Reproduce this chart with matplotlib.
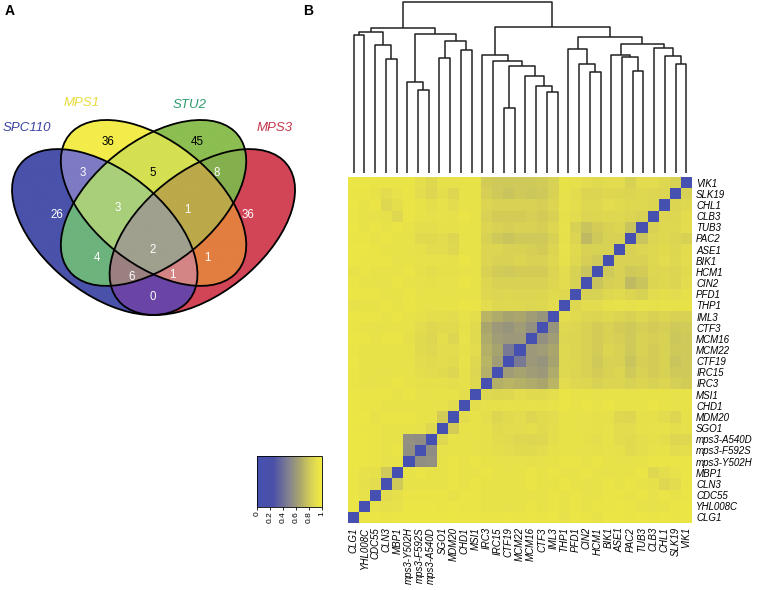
import numpy as np
import matplotlib
matplotlib.use("Agg")
import matplotlib.pyplot as plt
from matplotlib.patches import Ellipse
from matplotlib.colors import LinearSegmentedColormap, to_rgba

plt.rcParams['font.family'] = ['Liberation Sans', 'DejaVu Sans']

# ---------------- panel A: 4-set Venn ----------------
set_names = ["SPC110", "MPS1", "STU2", "MPS3"]
set_label_colors = ["#3B43A0", "#E8DC3A", "#2E9C6C", "#C3364C"]
region_keys = ["A", "B", "C", "D", "AB", "BC", "CD", "AC", "BD", "AD",
               "ABC", "BCD", "ACD", "ABD", "ABCD"]
region_counts = [26, 36, 45, 36, 3, 5, 8, 4, 1, 0, 3, 1, 6, 1, 2]

# ---------------- panel B: clustered distance heatmap ----------------
genes = ["CLG1", "YHL008C", "CDC55", "CLN3", "MBP1", "mps3-Y502H", "mps3-F592S",
         "mps3-A540D", "SGO1", "MDM20", "CHD1", "MSI1", "IRC3", "IRC15", "CTF19",
         "MCM22", "MCM16", "CTF3", "IML3", "THP1", "PFD1", "CIN2", "HCM1", "BIK1",
         "ASE1", "PAC2", "TUB3", "CLB3", "CHL1", "SLK19", "VIK1"]

# upper triangle, row i holds distances to genes i+1 .. 30
dist_upper = [
    [0.95, 0.96, 0.95, 0.96, 0.97, 0.97, 0.97, 0.96, 0.97, 0.96, 0.96, 0.95, 0.95, 0.96, 0.95,
     0.96, 0.95, 0.96, 0.93, 0.96, 0.95, 0.94, 0.96, 0.96, 0.95, 0.96, 0.95, 0.96, 0.95, 0.96],
    [0.93, 0.92, 0.93, 0.96, 0.96, 0.96, 0.95, 0.96, 0.95, 0.95, 0.93, 0.94, 0.93, 0.94,
     0.95, 0.94, 0.95, 0.94, 0.95, 0.94, 0.95, 0.95, 0.96, 0.95, 0.94, 0.93, 0.94, 0.95, 0.96],
    [0.90, 0.92, 0.95, 0.95, 0.95, 0.95, 0.94, 0.95, 0.95, 0.93, 0.93, 0.94, 0.93, 0.94,
     0.93, 0.95, 0.94, 0.95, 0.93, 0.94, 0.95, 0.95, 0.94, 0.95, 0.93, 0.95, 0.94, 0.95],
    [0.80, 0.93, 0.94, 0.94, 0.94, 0.95, 0.94, 0.95, 0.94, 0.93, 0.94, 0.94, 0.95, 0.94,
     0.94, 0.95, 0.94, 0.93, 0.94, 0.95, 0.94, 0.95, 0.94, 0.92, 0.88, 0.90, 0.95],
    [0.94, 0.95, 0.94, 0.94, 0.95, 0.94, 0.94, 0.95, 0.94, 0.93, 0.94, 0.95, 0.94, 0.95,
     0.94, 0.94, 0.95, 0.94, 0.93, 0.94, 0.94, 0.95, 0.88, 0.91, 0.93, 0.95],
    [0.55, 0.56, 0.94, 0.95, 0.94, 0.95, 0.94, 0.93, 0.93, 0.93, 0.92, 0.93, 0.94, 0.95,
     0.95, 0.94, 0.95, 0.94, 0.93, 0.93, 0.94, 0.95, 0.95, 0.95, 0.95],
    [0.54, 0.93, 0.94, 0.94, 0.93, 0.92, 0.91, 0.90, 0.89, 0.89, 0.90, 0.92, 0.94, 0.93,
     0.93, 0.92, 0.93, 0.92, 0.89, 0.91, 0.93, 0.94, 0.90, 0.91],
    [0.88, 0.93, 0.93, 0.93, 0.92, 0.90, 0.89, 0.88, 0.87, 0.88, 0.91, 0.93, 0.94, 0.92,
     0.91, 0.93, 0.90, 0.89, 0.91, 0.92, 0.91, 0.87, 0.88],
    [0.82, 0.93, 0.94, 0.92, 0.89, 0.90, 0.90, 0.91, 0.89, 0.91, 0.94, 0.93, 0.93, 0.92,
     0.93, 0.90, 0.90, 0.92, 0.93, 0.93, 0.91, 0.92],
    [0.90, 0.94, 0.91, 0.87, 0.89, 0.90, 0.87, 0.89, 0.90, 0.94, 0.93, 0.93, 0.92, 0.92,
     0.88, 0.87, 0.92, 0.92, 0.90, 0.87, 0.92],
    [0.91, 0.92, 0.92, 0.93, 0.92, 0.93, 0.92, 0.93, 0.95, 0.94, 0.95, 0.94, 0.95, 0.94,
     0.93, 0.94, 0.95, 0.94, 0.93, 0.94],
    [0.88, 0.87, 0.88, 0.90, 0.89, 0.89, 0.91, 0.95, 0.94, 0.94, 0.93, 0.94, 0.94, 0.93,
     0.94, 0.94, 0.94, 0.93, 0.94],
    [0.70, 0.72, 0.70, 0.68, 0.66, 0.72, 0.90, 0.88, 0.87, 0.85, 0.86, 0.86, 0.84, 0.86,
     0.85, 0.86, 0.83, 0.82],
    [0.62, 0.65, 0.62, 0.60, 0.68, 0.88, 0.86, 0.85, 0.82, 0.84, 0.86, 0.80, 0.84, 0.82,
     0.85, 0.80, 0.80],
    [0.45, 0.60, 0.58, 0.65, 0.88, 0.87, 0.84, 0.80, 0.85, 0.84, 0.78, 0.83, 0.82, 0.85,
     0.78, 0.80],
    [0.60, 0.62, 0.66, 0.88, 0.86, 0.85, 0.82, 0.86, 0.84, 0.80, 0.85, 0.82, 0.85, 0.80, 0.80],
    [0.56, 0.62, 0.87, 0.86, 0.84, 0.82, 0.85, 0.83, 0.80, 0.84, 0.83, 0.84, 0.79, 0.80],
    [0.58, 0.88, 0.87, 0.84, 0.82, 0.84, 0.82, 0.80, 0.83, 0.82, 0.83, 0.80, 0.81],
    [0.90, 0.89, 0.87, 0.86, 0.88, 0.86, 0.84, 0.87, 0.85, 0.86, 0.84, 0.85],
    [0.88, 0.90, 0.90, 0.92, 0.93, 0.92, 0.93, 0.92, 0.93, 0.93, 0.94],
    [0.85, 0.84, 0.88, 0.89, 0.86, 0.85, 0.90, 0.91, 0.90, 0.92],
    [0.78, 0.83, 0.84, 0.74, 0.78, 0.86, 0.88, 0.86, 0.90],
    [0.80, 0.84, 0.80, 0.82, 0.87, 0.88, 0.86, 0.89],
    [0.84, 0.84, 0.85, 0.88, 0.90, 0.88, 0.90],
    [0.84, 0.86, 0.88, 0.89, 0.87, 0.90],
    [0.78, 0.86, 0.88, 0.86, 0.84],
    [0.85, 0.88, 0.88, 0.90],
    [0.86, 0.87, 0.90],
    [0.86, 0.88],
    [0.84],
]

# dendrogram (32 leaves): (left node, right node, merge height); new nodes numbered from 32
n_leaves = 32
merges = [
    (0, 1, 138), (3, 4, 114), (2, 33, 128), (32, 34, 141),
    (6, 7, 83), (5, 36, 91), (8, 9, 115), (10, 11, 123), (38, 39, 132), (37, 40, 139),
    (35, 41, 145),
    (14, 15, 65), (18, 19, 81), (17, 44, 87), (16, 45, 97), (43, 46, 107), (13, 47, 112),
    (12, 48, 118),
    (22, 23, 101), (21, 50, 109), (20, 51, 124),
    (26, 27, 102), (25, 53, 116), (24, 54, 118),
    (30, 31, 109), (29, 56, 117), (28, 57, 125), (55, 58, 129), (52, 59, 136),
    (49, 60, 146), (42, 61, 171),
]

W, H = 760, 590
fig = plt.figure(figsize=(W / 100, H / 100), dpi=100)


def px_axes(x0, y0, x1, y1):
    return fig.add_axes([x0 / W, 1 - y1 / H, (x1 - x0) / W, (y1 - y0) / H])


# ---------- Venn ----------
axv = px_axes(0, 75, 310, 370)
xlim = (0.028, 0.981)
ylim = (-0.004, 1.0096)
ell_centers = [(0.35, 0.47), (0.50, 0.57), (0.50, 0.57), (0.65, 0.47)]
ell_angles = [-45, -45, 45, 45]
ell_a, ell_b = 0.35, 0.20
region_colors = {
    "A": "#4A52AA", "B": "#F3EC4A", "C": "#8CBE52", "D": "#D24557",
    "AB": "#7D7BC4", "BC": "#D5E052", "CD": "#84AF4E", "AC": "#6DB37D",
    "BD": "#E27E40", "AD": "#6A45A6", "ABC": "#A9CF7A", "BCD": "#BBA94A",
    "ACD": "#9B8180", "ABD": "#D48484", "ABCD": "#9FA08E",
}
gx = np.linspace(xlim[0], xlim[1], 900)
gy = np.linspace(ylim[0], ylim[1], 900)
XX, YY = np.meshgrid(gx, gy)
inside = []
for (cx, cy), ang in zip(ell_centers, ell_angles):
    t = np.deg2rad(ang)
    dx, dy = XX - cx, YY - cy
    u = dx * np.cos(t) + dy * np.sin(t)
    v = -dx * np.sin(t) + dy * np.cos(t)
    inside.append((u / ell_a) ** 2 + (v / ell_b) ** 2 <= 1)
img = np.zeros(XX.shape + (4,))
for key, col in region_colors.items():
    mask = np.ones(XX.shape, bool)
    for k, letter in enumerate("ABCD"):
        mask &= inside[k] if letter in key else ~inside[k]
    img[mask] = to_rgba(col)
axv.imshow(img, origin="lower", extent=(xlim[0], xlim[1], ylim[0], ylim[1]),
           aspect="auto", interpolation="bilinear")
for (cx, cy), ang in zip(ell_centers, ell_angles):
    axv.add_patch(Ellipse((cx, cy), 2 * ell_a, 2 * ell_b, angle=ang,
                          fill=False, ec="black", lw=1.3))
region_pos = {
    "A": (0.203, 0.529), "B": (0.360, 0.779), "C": (0.634, 0.779), "D": (0.790, 0.529),
    "AB": (0.283, 0.673), "BC": (0.498, 0.673), "CD": (0.695, 0.673),
    "AC": (0.326, 0.381), "BD": (0.664, 0.381), "AD": (0.498, 0.247),
    "ABC": (0.391, 0.553), "BCD": (0.603, 0.546), "ACD": (0.434, 0.315),
    "ABD": (0.557, 0.322), "ABCD": (0.498, 0.408),
}
dark_text = {"B", "C", "BC"}
for key, n in zip(region_keys, region_counts):
    x, y = region_pos[key]
    axv.text(x, y, str(n), ha="center", va="center", fontsize=8.3,
             color="black" if key in dark_text else "white")
set_label_pos = [(0.111, 0.828), (0.280, 0.913), (0.612, 0.906), (0.873, 0.828)]
for name, (x, y), c in zip(set_names, set_label_pos, set_label_colors):
    axv.text(x, y, name, ha="center", va="center", fontsize=9.5,
             style="italic", color=c)
axv.set_xlim(*xlim)
axv.set_ylim(*ylim)
axv.axis("off")

# ---------- heatmap ----------
n = len(genes)
dist = np.zeros((n, n))
for i, row in enumerate(dist_upper):
    for k, val in enumerate(row):
        j = i + 1 + k
        dist[i, j] = dist[j, i] = val

cmap = LinearSegmentedColormap.from_list(
    "by", [(0.0, "#4550B0"), (0.25, "#4A50A8"), (0.5, "#86848E"), (0.65, "#A7A36F"),
           (0.8, "#CFC95A"), (0.92, "#E6E04C"), (1.0, "#F0EA42")])

axh = px_axes(348, 177, 692, 523)
im = axh.imshow(dist, origin="lower", cmap=cmap, vmin=0, vmax=1, aspect="auto",
                interpolation="nearest")
axh.set_xticks(range(n))
axh.set_xticklabels(genes, rotation=90, fontsize=7, style="italic")
axh.set_yticks(range(n))
axh.set_yticklabels(genes, fontsize=7, style="italic")
axh.yaxis.tick_right()
axh.tick_params(length=0, pad=3)
for s in axh.spines.values():
    s.set_visible(False)

# ---------- dendrogram ----------
axd = px_axes(348, 2, 692, 173)
leaf_x = np.linspace(0, n - 1, n_leaves)
pos = {i: leaf_x[i] for i in range(n_leaves)}
hgt = {i: 0.0 for i in range(n_leaves)}
for k, (l, r, h) in enumerate(merges):
    xl, xr = pos[l], pos[r]
    axd.plot([xl, xl, xr, xr], [hgt[l], h, h, hgt[r]], color="#222222", lw=1.1,
             solid_capstyle="butt", clip_on=False)
    pos[n_leaves + k] = (xl + xr) / 2
    hgt[n_leaves + k] = h
axd.set_xlim(-0.5, n - 0.5)
axd.set_ylim(0, 171)
axd.axis("off")

# ---------- colour key ----------
cax = px_axes(257, 456, 322, 507)
cb = fig.colorbar(im, cax=cax, orientation="horizontal")
cb.set_ticks([0, 0.2, 0.4, 0.6, 0.8, 1])
cb.set_ticklabels(["0", "0.2", "0.4", "0.6", "0.8", "1"])
cb.ax.tick_params(labelsize=6, labelrotation=90, length=2, width=0.6, pad=1)
cb.outline.set_linewidth(0.6)

fig.text(5 / W, 1 - 11 / H, "A", fontsize=10, fontweight="bold", va="center")
fig.text(303 / W, 1 - 11 / H, "B", fontsize=10, fontweight="bold", va="center")

fig.savefig("out.png", dpi=100)
